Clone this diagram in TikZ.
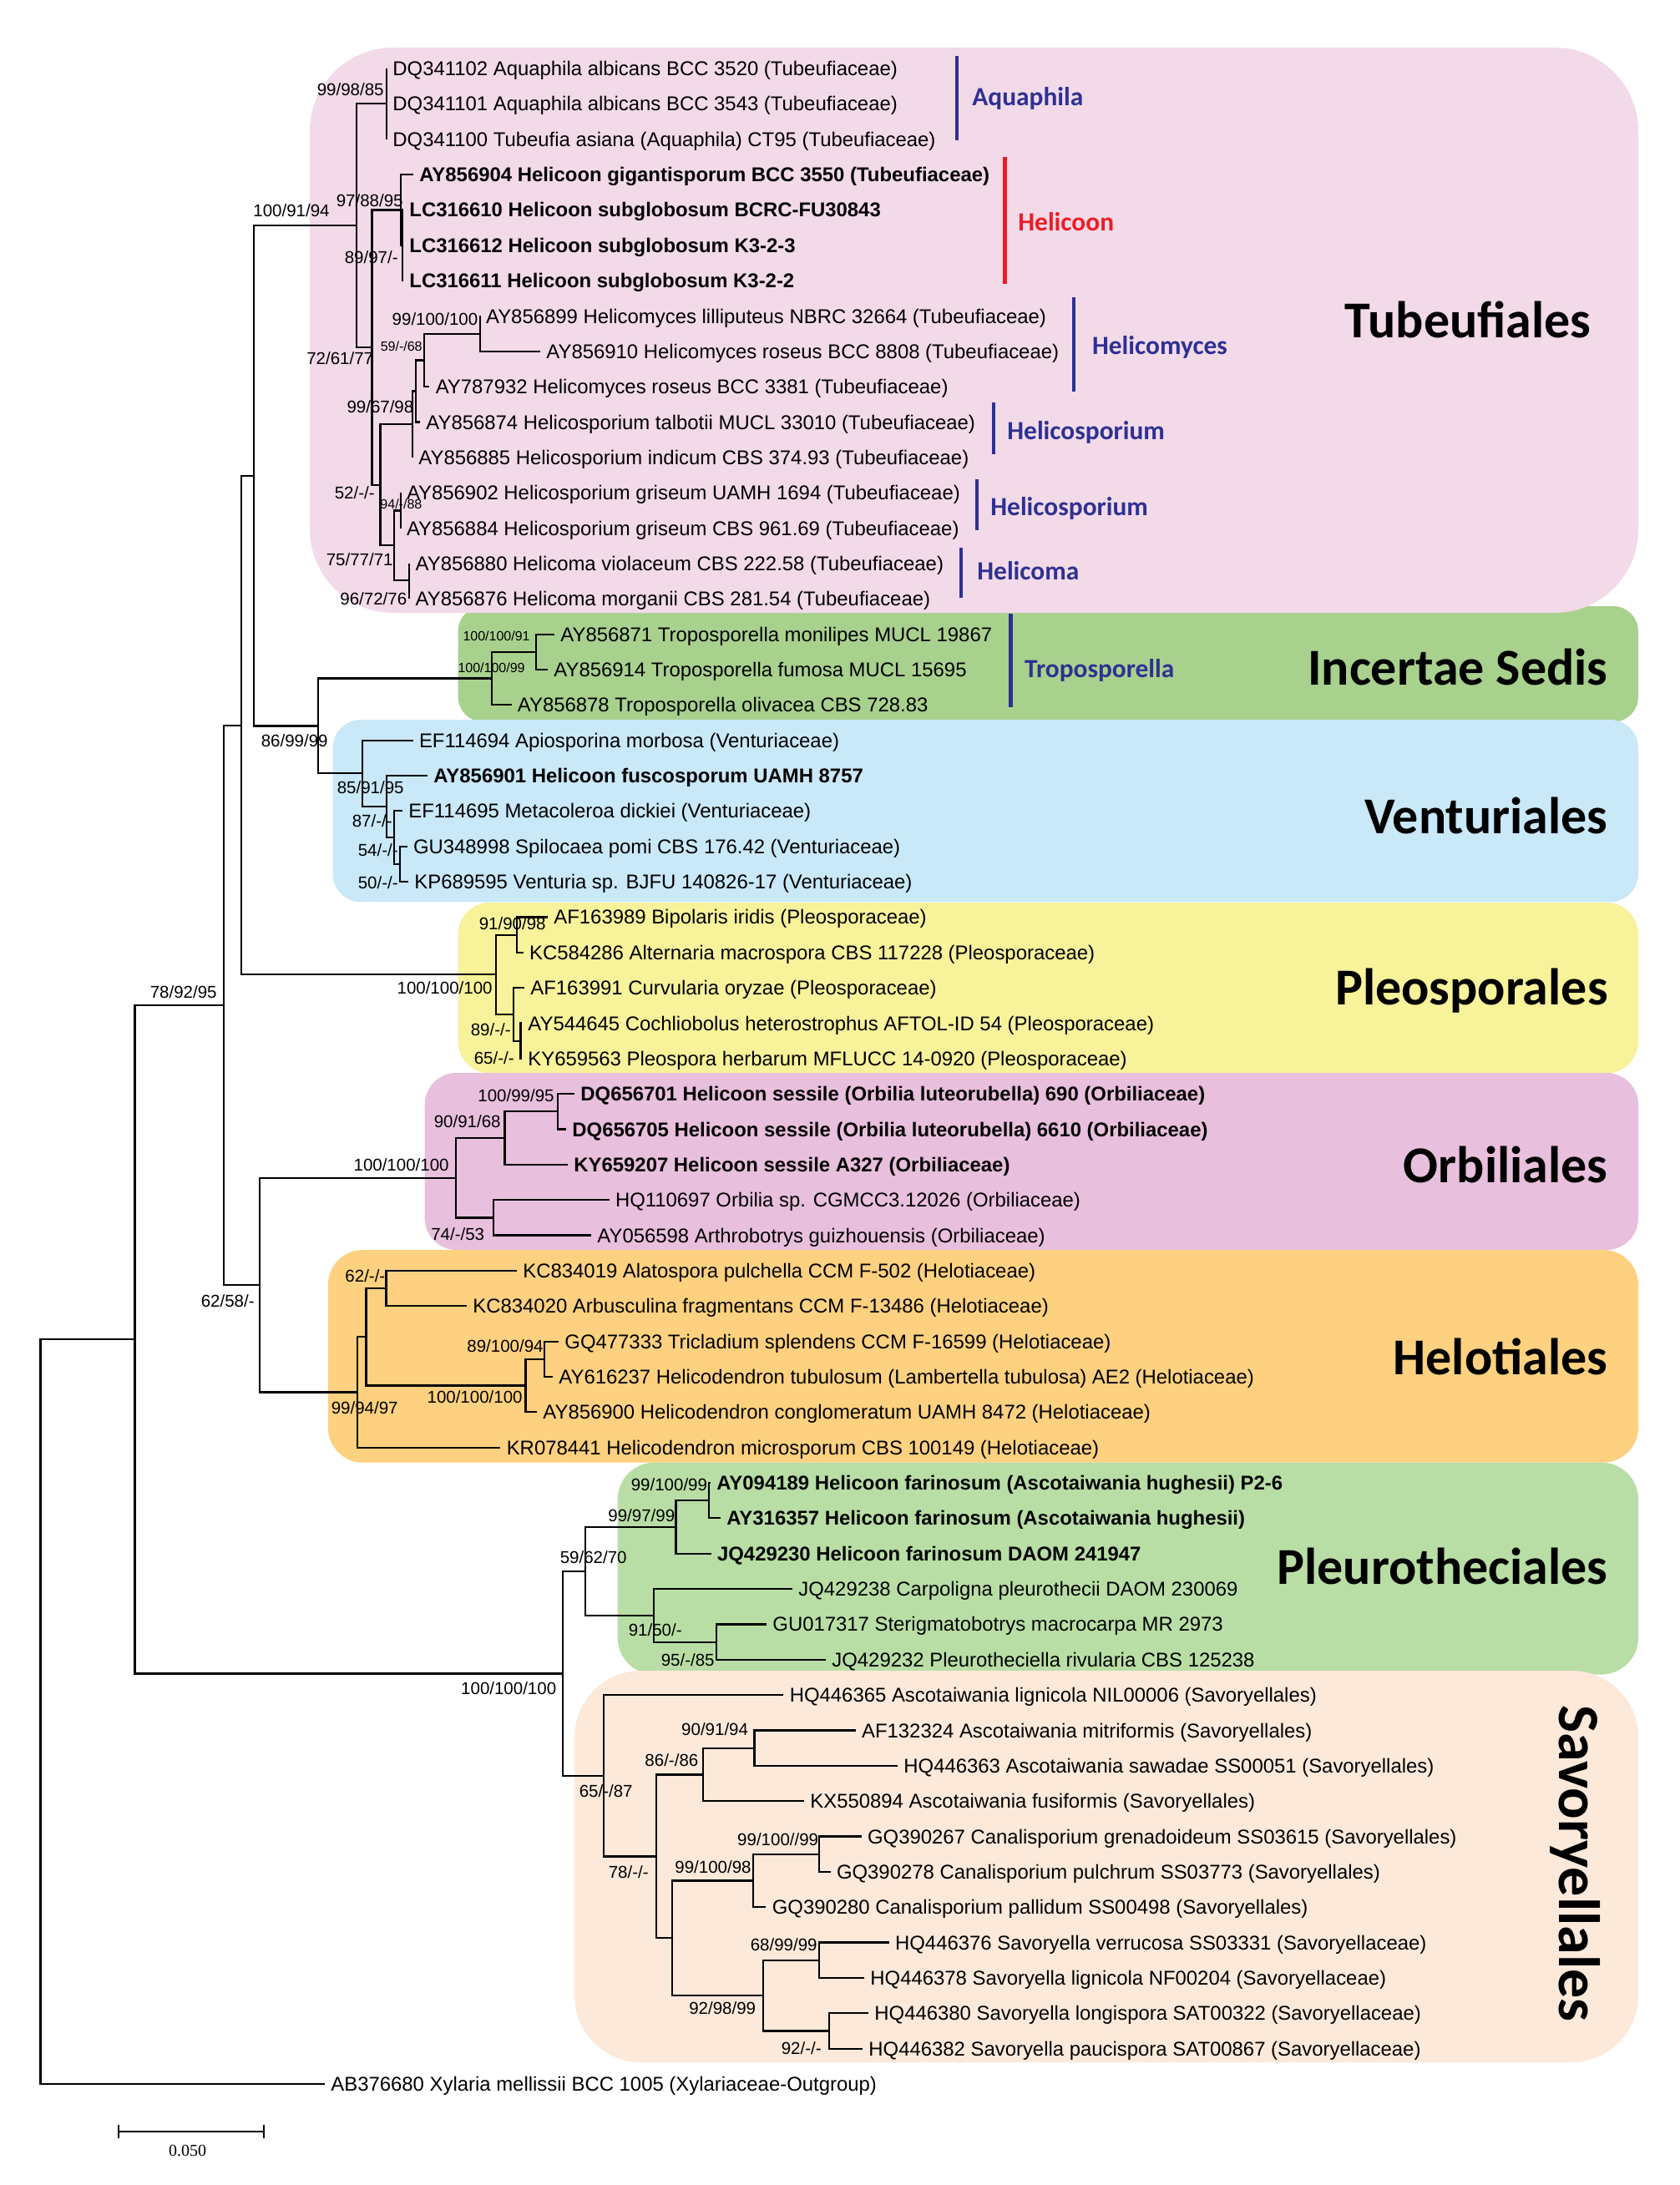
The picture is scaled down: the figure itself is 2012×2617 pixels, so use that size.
\documentclass[tikz,border=0pt]{standalone}
\usepackage{fontspec}
\setmainfont{Liberation Sans}
\newfontfamily\calfont{Carlito}
\newfontfamily\serfont{Liberation Serif}
\definecolor{cTub}{HTML}{F2DAE9}
\definecolor{cInc}{HTML}{A9D18E}
\definecolor{cVen}{HTML}{C9E8F8}
\definecolor{cPle}{HTML}{F8F29A}
\definecolor{cOrb}{HTML}{E8BFDC}
\definecolor{cHel}{HTML}{FDD17F}
\definecolor{cPlu}{HTML}{B9DEA5}
\definecolor{cSav}{HTML}{FCE9DA}
\definecolor{gblue}{HTML}{2E3192}
\definecolor{gred}{HTML}{ED1C24}
\tikzset{
  br/.style={line width=1.1pt},
  leaf/.style={anchor=west, inner xsep=3.5pt, inner ysep=0pt, text height=8.56pt, text depth=0pt, font=\fontsize{11.95}{14}\selectfont},
  leafb/.style={leaf, font=\fontsize{11.95}{14}\selectfont\bfseries},
  bs/.style={anchor=east, inner sep=0pt, text height=7.34pt, text depth=0pt, font=\fontsize{10.25}{12}\selectfont},
  bss/.style={bs, text height=5.73pt, font=\fontsize{8}{10}\selectfont},
  genus/.style={anchor=west, inner sep=0pt, text height=10.1pt, text depth=0pt, font=\calfont\bfseries\fontsize{15.7}{18}\selectfont, text=gblue},
  gbar/.style={line width=2.1pt, draw=gblue},
  clade/.style={anchor=base east, inner sep=0pt, font=\calfont\bfseries\fontsize{31}{36}\selectfont},
}
\newcommand\kids[2]{\foreach \kk in {#2}{\draw[br] (#1) |- (\kk);}}
\begin{document}
\begin{tikzpicture}[x=0.5pt,y=-0.5pt]
\useasboundingbox (0,0) rectangle (2012,2617);
\fill[white] (0,0) rectangle (2012,2617);
% background boxes
\fill[cInc, rounded corners=15pt] (548.6,726) rectangle (1962,864.6);
\fill[cTub, rounded corners=50pt] (371,57) rectangle (1962,734);
\fill[cVen, rounded corners=17pt] (398.5,862) rectangle (1962,1080.4);
\fill[cPle, rounded corners=19pt] (548.6,1081) rectangle (1962,1285.5);
\fill[cOrb, rounded corners=19pt] (508.7,1285) rectangle (1962,1497);
\fill[cHel, rounded corners=21pt] (392.8,1497) rectangle (1962,1751.7);
\fill[cPlu, rounded corners=22pt] (739.7,1751.7) rectangle (1962,2005.5);
\fill[cSav, rounded corners=40pt] (688,2001) rectangle (1962,2470);

% leaves
\node[leaf] (l1) at (463,82) {DQ341102 Aquaphila albicans BCC 3520 (Tubeufiaceae)};
\node[leaf] (l2) at (463,124.35) {DQ341101 Aquaphila albicans BCC 3543 (Tubeufiaceae)};
\node[leaf] (l3) at (463,166.7) {DQ341100 Tubeufia asiana (Aquaphila) CT95 (Tubeufiaceae)};
\node[leafb] (l4) at (495,209.05) {AY856904 Helicoon gigantisporum BCC 3550 (Tubeufiaceae)};
\node[leafb] (l5) at (483,251.4) {LC316610 Helicoon subglobosum BCRC-FU30843};
\node[leafb] (l6) at (483,293.75) {LC316612 Helicoon subglobosum K3-2-3};
\node[leafb] (l7) at (483,336.1) {LC316611 Helicoon subglobosum K3-2-2};
\node[leaf] (l8) at (574.7,378.45) {AY856899 Helicomyces lilliputeus NBRC 32664 (Tubeufiaceae)};
\node[leaf] (l9) at (647,420.8) {AY856910 Helicomyces roseus BCC 8808 (Tubeufiaceae)};
\node[leaf] (l10) at (514.4,463.15) {AY787932 Helicomyces roseus BCC 3381 (Tubeufiaceae)};
\node[leaf] (l11) at (503,505.5) {AY856874 Helicosporium talbotii MUCL 33010 (Tubeufiaceae)};
\node[leaf] (l12) at (494,547.85) {AY856885 Helicosporium indicum CBS 374.93 (Tubeufiaceae)};
\node[leaf] (l13) at (479.6,590.2) {AY856902 Helicosporium griseum UAMH 1694 (Tubeufiaceae)};
\node[leaf] (l14) at (479.6,632.55) {AY856884 Helicosporium griseum CBS 961.69 (Tubeufiaceae)};
\node[leaf] (l15) at (490.3,674.9) {AY856880 Helicoma violaceum CBS 222.58 (Tubeufiaceae)};
\node[leaf] (l16) at (490.3,717.25) {AY856876 Helicoma morganii CBS 281.54 (Tubeufiaceae)};
\node[leaf] (l17) at (664,759.6) {AY856871 Troposporella monilipes MUCL 19867};
\node[leaf] (l18) at (656,801.95) {AY856914 Troposporella fumosa MUCL 15695};
\node[leaf] (l19) at (612.5,844.3) {AY856878 Troposporella olivacea CBS 728.83};
\node[leaf] (l20) at (494.6,886.65) {EF114694 Apiosporina morbosa (Venturiaceae)};
\node[leafb] (l21) at (512,929) {AY856901 Helicoon fuscosporum UAMH 8757};
\node[leaf] (l22) at (482,971.35) {EF114695 Metacoleroa dickiei (Venturiaceae)};
\node[leaf] (l23) at (487.6,1013.7) {GU348998 Spilocaea pomi CBS 176.42 (Venturiaceae)};
\node[leaf] (l24) at (489,1056.05) {KP689595 Venturia sp. BJFU 140826-17 (Venturiaceae)};
\node[leaf] (l25) at (656,1098.4) {AF163989 Bipolaris iridis (Pleosporaceae)};
\node[leaf] (l26) at (626.7,1140.75) {KC584286 Alternaria macrospora CBS 117228 (Pleosporaceae)};
\node[leaf] (l27) at (628,1183.1) {AF163991 Curvularia oryzae (Pleosporaceae)};
\node[leaf] (l28) at (625,1225.45) {AY544645 Cochliobolus heterostrophus AFTOL-ID 54 (Pleosporaceae)};
\node[leaf] (l29) at (625,1267.8) {KY659563 Pleospora herbarum MFLUCC 14-0920 (Pleosporaceae)};
\node[leafb] (l30) at (688,1310.15) {DQ656701 Helicoon sessile (Orbilia luteorubella) 690 (Orbiliaceae)};
\node[leafb] (l31) at (678,1352.5) {DQ656705 Helicoon sessile (Orbilia luteorubella) 6610 (Orbiliaceae)};
\node[leafb] (l32) at (680,1394.85) {KY659207 Helicoon sessile A327 (Orbiliaceae)};
\node[leaf] (l33) at (729.6,1437.2) {HQ110697 Orbilia sp. CGMCC3.12026 (Orbiliaceae)};
\node[leaf] (l34) at (708,1479.55) {AY056598 Arthrobotrys guizhouensis (Orbiliaceae)};
\node[leaf] (l35) at (619,1521.9) {KC834019 Alatospora pulchella CCM F-502 (Helotiaceae)};
\node[leaf] (l36) at (559,1564.25) {KC834020 Arbusculina fragmentans CCM F-13486 (Helotiaceae)};
\node[leaf] (l37) at (669,1606.6) {GQ477333 Tricladium splendens CCM F-16599 (Helotiaceae)};
\node[leaf] (l38) at (662,1648.95) {AY616237 Helicodendron tubulosum (Lambertella tubulosa) AE2 (Helotiaceae)};
\node[leaf] (l39) at (643,1691.3) {AY856900 Helicodendron conglomeratum UAMH 8472 (Helotiaceae)};
\node[leaf] (l40) at (599.4,1733.65) {KR078441 Helicodendron microsporum CBS 100149 (Helotiaceae)};
\node[leafb] (l41) at (851,1776) {AY094189 Helicoon farinosum (Ascotaiwania hughesii) P2-6};
\node[leafb] (l42) at (863,1818.35) {AY316357 Helicoon farinosum (Ascotaiwania hughesii)};
\node[leafb] (l43) at (851.7,1860.7) {JQ429230 Helicoon farinosum DAOM 241947};
\node[leaf] (l44) at (949,1903.05) {JQ429238 Carpoligna pleurothecii DAOM 230069};
\node[leaf] (l45) at (918,1945.4) {GU017317 Sterigmatobotrys macrocarpa MR 2973};
\node[leaf] (l46) at (989,1987.75) {JQ429232 Pleurotheciella rivularia CBS 125238};
\node[leaf] (l47) at (938.4,2030.1) {HQ446365 Ascotaiwania lignicola NIL00006 (Savoryellales)};
\node[leaf] (l48) at (1024.7,2072.45) {AF132324 Ascotaiwania mitriformis (Savoryellales)};
\node[leaf] (l49) at (1075,2114.8) {HQ446363 Ascotaiwania sawadae SS00051 (Savoryellales)};
\node[leaf] (l50) at (963,2157.15) {KX550894 Ascotaiwania fusiformis (Savoryellales)};
\node[leaf] (l51) at (1031.7,2199.5) {GQ390267 Canalisporium grenadoideum SS03615 (Savoryellales)};
\node[leaf] (l52) at (994.6,2241.85) {GQ390278 Canalisporium pulchrum SS03773 (Savoryellales)};
\node[leaf] (l53) at (917.4,2284.2) {GQ390280 Canalisporium pallidum SS00498 (Savoryellales)};
\node[leaf] (l54) at (1064.7,2326.55) {HQ446376 Savoryella verrucosa SS03331 (Savoryellaceae)};
\node[leaf] (l55) at (1035,2368.9) {HQ446378 Savoryella lignicola NF00204 (Savoryellaceae)};
\node[leaf] (l56) at (1040,2411.25) {HQ446380 Savoryella longispora SAT00322 (Savoryellaceae)};
\node[leaf] (l57) at (1033,2453.6) {HQ446382 Savoryella paucispora SAT00867 (Savoryellaceae)};
\node[leaf] (l58) at (389,2495.95) {AB376680 Xylaria mellissii BCC 1005 (Xylariaceae-Outgroup)};

% internal nodes
\coordinate (nAq) at (463,124.35);
\coordinate (nHc2) at (482,293.75);
\coordinate (nHc) at (480,251.4);
\coordinate (n100) at (574.7,399.6);
\coordinate (n59) at (507.7,431.4);
\coordinate (n99b) at (497.7,468.5);
\coordinate (n9967) at (494,508.2);
\coordinate (n94) at (479.6,611.4);
\coordinate (nHm) at (490.3,695.1);
\coordinate (nD) at (472,653.2);
\coordinate (nC) at (455.5,580.7);
\coordinate (nB) at (445.5,416);
\coordinate (nA) at (427,270.2);
\coordinate (nTr2) at (642,780.8);
\coordinate (nTr) at (589,812.5);
\coordinate (nV4) at (479,1034.9);
\coordinate (nV3) at (472,1003.1);
\coordinate (nV2) at (463,966);
\coordinate (nV) at (433.6,926.3);
\coordinate (nTV) at (381,869.4);
\coordinate (nTT) at (304,569.8);
\coordinate (nP1) at (618.7,1119.6);
\coordinate (nP3) at (623.5,1246.6);
\coordinate (nP2) at (614.8,1214.9);
\coordinate (nP) at (594,1167.3);
\coordinate (nTP) at (289,868.6);
\coordinate (nO3) at (668,1331.3);
\coordinate (nO2) at (604.4,1363.1);
\coordinate (nO4) at (591,1458.4);
\coordinate (nO) at (546,1410.8);
\coordinate (nH2) at (462.5,1543.1);
\coordinate (nH4) at (652,1627.8);
\coordinate (nH3) at (629.5,1659.5);
\coordinate (nH1) at (438.4,1601.3);
\coordinate (nH) at (428,1667.5);
\coordinate (nOH) at (311,1539.2);
\coordinate (nMid) at (268,1203.9);
\coordinate (nPl3) at (849,1797.2);
\coordinate (nPl2) at (809.5,1829);
\coordinate (nPl5) at (857.7,1966.6);
\coordinate (nPl4) at (783,1934.8);
\coordinate (nPl) at (701,1881.9);
\coordinate (nS5) at (903.4,2093.6);
\coordinate (nS4) at (841.6,2125.4);
\coordinate (nS8) at (981,2220.7);
\coordinate (nS7) at (902,2252.4);
\coordinate (nS10) at (981,2347.7);
\coordinate (nS11) at (993,2432.4);
\coordinate (nS9) at (914,2390.1);
\coordinate (nS6) at (805,2321.3);
\coordinate (nS3) at (786,2223.4);
\coordinate (nS) at (723,2126.8);
\coordinate (nPS) at (674,2004.4);
\coordinate (n78) at (161.5,1604.2);
\coordinate (root) at (48.5,2050);

% branches
\kids{nAq}{l1.west,l2.west,l3.west}
\kids{nHc2}{l5.west,l6.west,l7.west}
\kids{nHc}{l4.west,nHc2}
\kids{n100}{l8.west,l9.west}
\kids{n59}{n100,l10.west}
\kids{n99b}{n59,l11.west}
\kids{n9967}{n99b,l12.west}
\kids{n94}{l13.west,l14.west}
\kids{nHm}{l15.west,l16.west}
\kids{nD}{n94,nHm}
\kids{nC}{n9967,nD}
\kids{nB}{nHc,nC}
\kids{nA}{nAq,nB}
\kids{nTr2}{l17.west,l18.west}
\kids{nTr}{nTr2,l19.west}
\kids{nV4}{l23.west,l24.west}
\kids{nV3}{l22.west,nV4}
\kids{nV2}{l21.west,nV3}
\kids{nV}{l20.west,nV2}
\kids{nTV}{nTr,nV}
\kids{nTT}{nA,nTV}
\kids{nP1}{l25.west,l26.west}
\kids{nP3}{l28.west,l29.west}
\kids{nP2}{l27.west,nP3}
\kids{nP}{nP1,nP2}
\kids{nTP}{nTT,nP}
\kids{nO3}{l30.west,l31.west}
\kids{nO2}{nO3,l32.west}
\kids{nO4}{l33.west,l34.west}
\kids{nO}{nO2,nO4}
\kids{nH2}{l35.west,l36.west}
\kids{nH4}{l37.west,l38.west}
\kids{nH3}{nH4,l39.west}
\kids{nH1}{nH2,nH3}
\kids{nH}{nH1,l40.west}
\kids{nOH}{nO,nH}
\kids{nMid}{nTP,nOH}
\kids{nPl3}{l41.west,l42.west}
\kids{nPl2}{nPl3,l43.west}
\kids{nPl5}{l45.west,l46.west}
\kids{nPl4}{l44.west,nPl5}
\kids{nPl}{nPl2,nPl4}
\kids{nS5}{l48.west,l49.west}
\kids{nS4}{nS5,l50.west}
\kids{nS8}{l51.west,l52.west}
\kids{nS7}{nS8,l53.west}
\kids{nS10}{l54.west,l55.west}
\kids{nS11}{l56.west,l57.west}
\kids{nS9}{nS10,nS11}
\kids{nS6}{nS7,nS9}
\kids{nS3}{nS4,nS6}
\kids{nS}{l47.west,nS3}
\kids{nPS}{nPl,nS}
\kids{n78}{nMid,nPS}
\kids{root}{n78,l58.west}

% support values
\node[bs] (b1) at (460,106.7) {99/98/85};
\node[bs] (b2) at (395,251.7) {100/91/94};
\node[bs] (b3) at (483,240) {97/88/95};
\node[bs] (b4) at (477,308) {89/97/-};
\node[bs] (b5) at (572.7,381.7) {99/100/100};
\node[bss] (b6) at (506,415) {59/-/68};
\node[bs] (b7) at (447.5,429) {72/61/77};
\node[bs] (b8) at (495.7,486.7) {99/67/98};
\node[bs] (b9) at (449,590) {52/-/-};
\node[bss] (b10) at (505.7,604) {94/-/88};
\node[bs] (b11) at (471,670) {75/77/71};
\node[bs] (b12) at (487.6,716.7) {96/72/76};
\node[bss] (b13) at (635,761.7) {100/100/91};
\node[bss] (b14) at (629,799.3) {100/100/99};
\node[bs] (b15) at (393,886.7) {86/99/99};
\node[bs] (b16) at (484,943.3) {85/91/95};
\node[bs] (b17) at (470,982.7) {87/-/-};
\node[bs] (b18) at (477,1018.3) {54/-/-};
\node[bs] (b19) at (477,1056.7) {50/-/-};
\node[bs] (b20) at (654,1106) {91/90/98};
\node[bs] (b21) at (590,1183.3) {100/100/100};
\node[bs] (b22) at (612,1232.7) {89/-/-};
\node[bs] (b23) at (616,1266.7) {65/-/-};
\node[bs] (b24) at (260,1188.3) {78/92/95};
\node[bs] (b25) at (664,1311.7) {100/99/95};
\node[bs] (b26) at (600,1343.3) {90/91/68};
\node[bs] (b27) at (538,1395) {100/100/100};
\node[bs] (b28) at (580.5,1478.3) {74/-/53};
\node[bs] (b29) at (461.7,1528.3) {62/-/-};
\node[bs] (b30) at (305,1558.3) {62/58/-};
\node[bs] (b31) at (651,1611.7) {89/100/94};
\node[bs] (b32) at (626,1673.3) {100/100/100};
\node[bs] (b33) at (477,1686) {99/94/97};
\node[bs] (b34) at (847.4,1778.3) {99/100/99};
\node[bs] (b35) at (808.6,1815) {99/97/99};
\node[bs] (b36) at (751,1865) {59/62/70};
\node[bs] (b37) at (817,1951.7) {91/50/-};
\node[bs] (b38) at (856,1988.3) {95/-/85};
\node[bs] (b39) at (666.6,2021.7) {100/100/100};
\node[bs] (b40) at (896.4,2071) {90/91/94};
\node[bs] (b41) at (836.7,2108.3) {86/-/86};
\node[bs] (b42) at (758,2145) {65/-/87};
\node[bs] (b43) at (980.5,2203.3) {99/100//99};
\node[bs] (b44) at (900,2236) {99/100/98};
\node[bs] (b45) at (777,2241.7) {78/-/-};
\node[bs] (b46) at (979,2329.3) {68/99/99};
\node[bs] (b47) at (905.5,2405) {92/98/99};
\node[bs] (b48) at (984,2452.7) {92/-/-};

% genus bars and labels
\draw[gbar] (1146,67) -- (1146,168);
\node[genus] (g1) at (1164,116) {Aquaphila};
\draw[gbar, draw=gred] (1203.5,188) -- (1203.5,340);
\node[genus, text=gred] (g2) at (1219,266) {Helicoon};
\draw[gbar] (1286,356) -- (1286,469);
\node[genus] (g3) at (1307.7,414) {Helicomyces};
\draw[gbar] (1190,482) -- (1190,544);
\node[genus] (g4) at (1206,516) {Helicosporium};
\draw[gbar] (1170,574) -- (1170,635);
\node[genus] (g5) at (1186,607) {Helicosporium};
\draw[gbar] (1151,655.6) -- (1151,716);
\node[genus] (g6) at (1170,684) {Helicoma};
\draw[gbar] (1210.5,734.6) -- (1210.5,846.7);
\node[genus] (g7) at (1226.8,801) {Troposporella};

% order labels
\node[clade] (c1) at (1906,404.5) {Tubeufiales};
\node[clade] (c2) at (1926,820) {Incertae Sedis};
\node[clade] (c3) at (1926,998) {Venturiales};
\node[clade] (c4) at (1926,1203) {Pleosporales};
\node[clade] (c5) at (1926,1416) {Orbiliales};
\node[clade] (c6) at (1926,1646) {Helotiales};
\node[clade] (c7) at (1926,1897) {Pleurotheciales};
\node[clade, anchor=base, rotate=-90, font=\calfont\bfseries\fontsize{35}{40}\selectfont] (c8) at (1867,2232) {Savoryellales};

% scale bar
\coordinate (sb1) at (141.7,2553);
\coordinate (sb2) at (315.7,2553);
\draw[br] (sb1) -- (sb2);
\draw[br] ([yshift=4pt]sb1) -- ([yshift=-4pt]sb1);
\draw[br] ([yshift=4pt]sb2) -- ([yshift=-4pt]sb2);
\node[font=\serfont\fontsize{10}{12}\selectfont, inner sep=0pt] (sbl) at (224.5,2575.7) {0.050};
\end{tikzpicture}
\end{document}
